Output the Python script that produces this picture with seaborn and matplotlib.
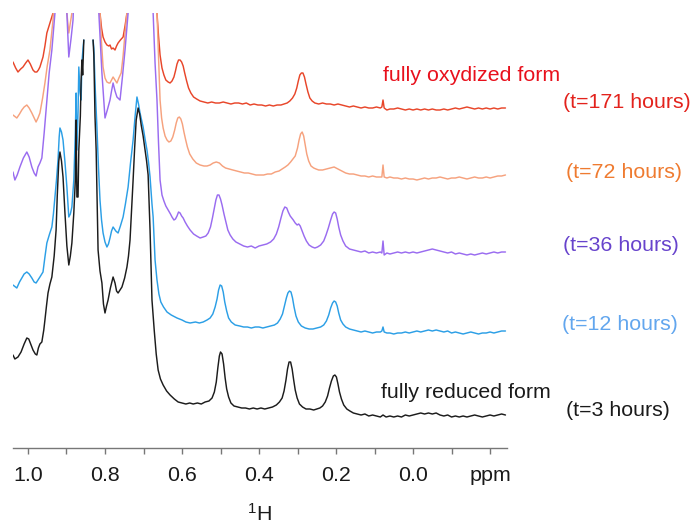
import numpy as np
import pandas as pd
import matplotlib
matplotlib.use("Agg")
import matplotlib.pyplot as plt
import seaborn as sns

# ---------------- data ----------------
# (chemical shift in ppm, intensity above the spectrum's own baseline, a.u.)
# None marks the truncated region of the two lower spectra.
spec_3h = [
    (1.039, 61), (1.034, 57), (1.026, 59), (1.018, 64), (1.010, 72), (1.003, 78), (0.998, 77),
    (0.993, 72), (0.987, 66), (0.981, 62), (0.977, 61), (0.973, 68), (0.969, 72), (0.964, 74),
    (0.959, 86), (0.956, 96), (0.952, 110), (0.948, 123), (0.943, 132), (0.938, 139), (0.932, 160),
    (0.927, 186), (0.924, 220), (0.920, 255), (0.917, 264), (0.913, 255), (0.909, 239), (0.904, 203),
    (0.899, 170), (0.894, 151), (0.890, 160), (0.886, 173), (0.881, 203), (0.877, 236), (0.875, 296),
    (0.873, 219), (0.870, 219), (0.868, 266), (0.864, 300), (0.862, 336), (0.860, 356), (0.858, 341),
    (0.855, 376), None, (0.831, 376), (0.829, 361), (0.826, 300), (0.823, 266), (0.818, 166),
    (0.813, 145), (0.808, 133), (0.804, 112), (0.800, 103), (0.796, 110), (0.792, 116), (0.786, 128),
    (0.779, 139), (0.774, 133), (0.770, 125), (0.766, 123), (0.761, 126), (0.756, 129), (0.749, 138),
    (0.743, 149), (0.739, 160), (0.735, 176), (0.731, 205), (0.727, 236), (0.723, 268), (0.719, 296),
    (0.714, 308), (0.710, 302), (0.706, 291), (0.701, 280), (0.696, 266), (0.692, 255), (0.688, 241),
    (0.683, 186), (0.678, 116), (0.672, 85), (0.667, 62), (0.662, 46), (0.656, 37), (0.649, 31),
    (0.640, 25), (0.631, 21), (0.620, 17), (0.610, 14), (0.600, 13), (0.590, 12), (0.580, 13),
    (0.571, 12), (0.560, 13), (0.550, 12), (0.540, 14), (0.530, 15), (0.522, 18), (0.516, 24),
    (0.511, 34), (0.507, 48), (0.503, 60), (0.500, 64), (0.496, 62), (0.492, 52), (0.488, 38),
    (0.484, 27), (0.479, 19), (0.473, 13), (0.465, 10), (0.455, 9), (0.445, 8), (0.435, 8),
    (0.425, 7), (0.415, 8), (0.405, 7), (0.395, 8), (0.385, 7), (0.375, 8), (0.365, 9), (0.355, 11),
    (0.347, 14), (0.340, 18), (0.335, 25), (0.330, 36), (0.326, 47), (0.322, 54), (0.318, 54),
    (0.314, 47), (0.310, 36), (0.306, 26), (0.301, 18), (0.295, 12), (0.287, 9), (0.278, 7),
    (0.268, 7), (0.258, 6), (0.250, 7), (0.242, 8), (0.235, 10), (0.228, 14), (0.222, 20),
    (0.217, 28), (0.212, 35), (0.207, 40), (0.203, 41), (0.199, 39), (0.195, 32), (0.191, 24),
    (0.186, 17), (0.180, 11), (0.172, 7), (0.164, 5), (0.155, 3), (0.145, 2), (0.135, 1), (0.125, 2),
    (0.115, 0), (0.105, 1), (0.095, 0), (0.085, -1), (0.078, 1), (0.070, -1), (0.060, 0),
    (0.050, -1), (0.040, 0), (0.030, -1), (0.020, 1), (0.010, 0), (0.000, 1), (-0.010, 2),
    (-0.020, 3), (-0.030, 2), (-0.040, 3), (-0.050, 2), (-0.060, 3), (-0.070, 1), (-0.080, 0),
    (-0.090, 1), (-0.100, -1), (-0.110, 0), (-0.120, -1), (-0.130, 0), (-0.140, -1), (-0.150, 0),
    (-0.160, 1), (-0.170, 0), (-0.180, -1), (-0.190, 0), (-0.200, 1), (-0.210, 0), (-0.220, 1),
    (-0.230, 2), (-0.240, 1),
]

spec_12h = [
    (1.039, 47), (1.029, 44), (1.022, 50), (1.016, 54), (1.010, 58), (1.003, 60), (0.997, 58),
    (0.990, 54), (0.984, 50), (0.979, 49), (0.974, 52), (0.969, 55), (0.961, 60), (0.956, 75),
    (0.951, 89), (0.944, 98), (0.938, 105), (0.934, 118), (0.930, 135), (0.926, 152), (0.922, 172),
    (0.919, 195), (0.917, 204), (0.913, 200), (0.909, 192), (0.904, 170), (0.899, 145), (0.894, 115),
    (0.890, 118), (0.886, 125), (0.881, 152), (0.877, 200), (0.875, 239), (0.873, 182), (0.870, 220),
    (0.868, 265), (0.865, 240), (0.862, 232), (0.860, 269), (0.857, 284), (0.855, 292), None,
    (0.831, 292), (0.829, 284), (0.825, 240), (0.821, 205), (0.817, 165), (0.813, 132), (0.809, 112),
    (0.805, 99), (0.800, 90), (0.795, 85), (0.791, 88), (0.787, 94), (0.783, 101), (0.779, 105),
    (0.772, 101), (0.766, 99), (0.760, 106), (0.753, 115), (0.747, 128), (0.740, 145), (0.734, 168),
    (0.727, 192), (0.722, 215), (0.717, 235), (0.713, 228), (0.709, 219), (0.705, 212), (0.701, 205),
    (0.696, 193), (0.691, 182), (0.687, 170), (0.683, 155), (0.678, 128), (0.675, 115), (0.670, 72),
    (0.665, 52), (0.660, 38), (0.655, 30), (0.648, 25), (0.639, 20), (0.628, 17), (0.613, 14),
    (0.600, 12), (0.590, 10), (0.579, 9), (0.565, 10), (0.555, 9), (0.545, 10), (0.535, 12),
    (0.527, 14), (0.520, 18), (0.514, 25), (0.509, 33), (0.505, 42), (0.501, 47), (0.497, 46),
    (0.493, 40), (0.489, 30), (0.484, 21), (0.479, 14), (0.472, 10), (0.462, 7), (0.450, 6),
    (0.440, 5), (0.430, 5), (0.420, 4), (0.410, 5), (0.400, 5), (0.390, 4), (0.380, 5), (0.370, 6),
    (0.360, 7), (0.352, 9), (0.345, 13), (0.339, 18), (0.334, 26), (0.329, 34), (0.325, 39),
    (0.321, 41), (0.317, 40), (0.313, 34), (0.309, 25), (0.304, 16), (0.298, 10), (0.290, 6),
    (0.280, 4), (0.270, 3), (0.260, 3), (0.250, 4), (0.240, 5), (0.232, 7), (0.225, 11),
    (0.219, 17), (0.214, 24), (0.209, 29), (0.205, 31), (0.201, 30), (0.197, 26), (0.193, 19),
    (0.188, 12), (0.182, 8), (0.175, 5), (0.165, 3), (0.155, 2), (0.145, 1), (0.135, 0), (0.125, 1),
    (0.115, 0), (0.105, -1), (0.095, 0), (0.085, 0), (0.081, 1), (0.078, 5), (0.075, 0),
    (0.068, -1), (0.060, -1), (0.050, -2), (0.040, -1), (0.030, -1), (0.020, 0), (0.010, -1),
    (0.000, 0), (-0.010, 1), (-0.020, 0), (-0.030, 1), (-0.040, 2), (-0.050, 1), (-0.060, 2),
    (-0.070, 1), (-0.080, 0), (-0.090, 1), (-0.100, -1), (-0.110, 0), (-0.120, -1), (-0.130, -2),
    (-0.140, -1), (-0.150, 0), (-0.160, -1), (-0.170, -2), (-0.180, -1), (-0.190, -1), (-0.200, 0),
    (-0.210, -1), (-0.220, 0), (-0.230, 1), (-0.240, 1),
]

spec_36h = [
    (1.039, 81), (1.034, 73), (1.028, 78), (1.021, 86), (1.012, 95), (1.003, 101), (0.997, 96),
    (0.990, 86), (0.984, 80), (0.979, 77), (0.974, 86), (0.969, 90), (0.964, 95), (0.958, 120),
    (0.951, 153), (0.945, 180), (0.938, 203), (0.930, 240), (0.925, 283), (0.910, 350), (0.899, 240),
    (0.894, 196), (0.888, 215), (0.883, 233), (0.878, 293), (0.850, 600), (0.822, 300), (0.816, 240),
    (0.808, 180), (0.800, 135), (0.794, 143), (0.787, 153), (0.783, 162), (0.779, 170), (0.774, 162),
    (0.769, 156), (0.761, 153), (0.755, 175), (0.748, 203), (0.740, 240), (0.732, 293), (0.710, 600),
    (0.683, 293), (0.675, 240), (0.670, 190), (0.665, 153), (0.661, 110), (0.657, 73), (0.652, 58),
    (0.647, 52), (0.642, 47), (0.636, 43), (0.630, 39), (0.626, 36), (0.621, 33), (0.617, 34),
    (0.613, 37), (0.609, 41), (0.605, 40), (0.601, 37), (0.597, 35), (0.592, 31), (0.586, 27),
    (0.579, 23), (0.570, 19), (0.562, 17), (0.553, 15), (0.545, 16), (0.538, 17), (0.532, 20),
    (0.526, 26), (0.521, 35), (0.516, 45), (0.512, 53), (0.508, 58), (0.504, 58), (0.500, 54),
    (0.496, 48), (0.491, 39), (0.486, 31), (0.481, 23), (0.475, 18), (0.468, 14), (0.460, 11),
    (0.450, 9), (0.440, 7), (0.430, 6), (0.420, 7), (0.410, 5), (0.400, 7), (0.390, 8), (0.380, 9),
    (0.370, 11), (0.362, 14), (0.355, 19), (0.349, 26), (0.343, 35), (0.338, 42), (0.333, 46),
    (0.328, 45), (0.324, 41), (0.319, 37), (0.315, 35), (0.311, 33), (0.306, 30), (0.301, 28),
    (0.297, 29), (0.293, 27), (0.288, 22), (0.283, 17), (0.277, 12), (0.270, 8), (0.262, 6),
    (0.255, 5), (0.248, 6), (0.240, 8), (0.232, 12), (0.226, 18), (0.220, 25), (0.214, 33),
    (0.209, 39), (0.205, 41), (0.201, 40), (0.197, 34), (0.193, 26), (0.188, 18), (0.182, 12),
    (0.175, 7), (0.165, 4), (0.155, 3), (0.145, 2), (0.135, 1), (0.125, 2), (0.115, 0), (0.105, 1),
    (0.095, 0), (0.085, 1), (0.081, 0), (0.078, 12), (0.075, -2), (0.068, 0), (0.060, -1),
    (0.050, 0), (0.040, 1), (0.030, 0), (0.020, 1), (0.010, 0), (0.000, 1), (-0.010, 0),
    (-0.020, 1), (-0.030, 2), (-0.040, 3), (-0.050, 4), (-0.060, 3), (-0.070, 2), (-0.080, 1),
    (-0.090, 0), (-0.100, 1), (-0.110, -1), (-0.120, 0), (-0.130, -1), (-0.140, -2), (-0.150, -1),
    (-0.160, -2), (-0.170, -1), (-0.180, 0), (-0.190, -1), (-0.200, 0), (-0.210, 1), (-0.220, 0),
    (-0.230, 1), (-0.240, 1),
]

spec_72h = [
    (1.039, 63), (1.029, 60), (1.022, 64), (1.016, 68), (1.010, 71), (1.003, 73), (0.997, 70),
    (0.990, 65), (0.984, 60), (0.979, 56), (0.974, 60), (0.969, 65), (0.962, 80), (0.956, 95),
    (0.950, 112), (0.943, 128), (0.935, 158), (0.930, 198), (0.910, 400), (0.904, 198), (0.899, 165),
    (0.894, 145), (0.886, 165), (0.881, 198), (0.850, 400), (0.818, 198), (0.813, 165), (0.809, 135),
    (0.805, 111), (0.800, 100), (0.795, 96), (0.790, 95), (0.787, 95), (0.783, 98), (0.779, 101),
    (0.774, 98), (0.769, 95), (0.764, 100), (0.758, 105), (0.753, 122), (0.748, 145), (0.743, 165),
    (0.738, 198), (0.710, 400), (0.670, 198), (0.665, 165), (0.661, 120), (0.657, 78), (0.653, 60),
    (0.649, 50), (0.644, 42), (0.639, 38), (0.634, 36), (0.629, 37), (0.624, 41), (0.619, 48),
    (0.615, 55), (0.611, 60), (0.607, 61), (0.603, 59), (0.599, 54), (0.595, 46), (0.591, 39),
    (0.586, 31), (0.580, 24), (0.572, 19), (0.563, 15), (0.553, 13), (0.543, 12), (0.535, 12),
    (0.527, 13), (0.519, 15), (0.511, 16), (0.503, 15), (0.495, 12), (0.487, 10), (0.478, 9),
    (0.468, 8), (0.458, 7), (0.448, 6), (0.438, 5), (0.428, 5), (0.418, 4), (0.408, 3), (0.398, 3),
    (0.388, 3), (0.378, 4), (0.368, 4), (0.358, 6), (0.348, 7), (0.340, 9), (0.332, 11),
    (0.325, 13), (0.318, 16), (0.312, 19), (0.306, 22), (0.300, 30), (0.296, 38), (0.292, 44),
    (0.288, 46), (0.284, 42), (0.280, 33), (0.276, 24), (0.271, 17), (0.265, 12), (0.258, 10),
    (0.252, 9), (0.245, 8), (0.235, 8), (0.225, 9), (0.215, 10), (0.205, 11), (0.195, 9),
    (0.185, 7), (0.175, 5), (0.165, 4), (0.155, 4), (0.145, 3), (0.135, 2), (0.125, 2), (0.115, 1),
    (0.105, 2), (0.095, 1), (0.085, 1), (0.081, 1), (0.078, 13), (0.075, 1), (0.068, 0), (0.060, 1),
    (0.050, 0), (0.040, 0), (0.030, -1), (0.020, 0), (0.010, -1), (0.000, -1), (-0.010, -2),
    (-0.020, -1), (-0.030, 0), (-0.040, -1), (-0.050, 0), (-0.060, 0), (-0.070, 1), (-0.080, 0),
    (-0.090, -1), (-0.100, 0), (-0.110, 0), (-0.120, 1), (-0.130, 0), (-0.140, -1), (-0.150, 0),
    (-0.160, 1), (-0.170, 0), (-0.180, 0), (-0.190, 1), (-0.200, 0), (-0.210, 1), (-0.220, 2),
    (-0.230, 2), (-0.240, 3),
]

spec_171h = [
    (1.039, 46), (1.032, 40), (1.026, 36), (1.019, 39), (1.013, 41), (1.006, 45), (1.000, 48),
    (0.994, 44), (0.987, 38), (0.982, 36), (0.977, 36), (0.973, 38), (0.969, 41), (0.961, 51),
    (0.956, 62), (0.951, 75), (0.943, 85), (0.935, 95), (0.930, 128), (0.870, 300), (0.818, 128),
    (0.813, 95), (0.809, 80), (0.805, 71), (0.800, 66), (0.795, 63), (0.790, 62), (0.787, 63),
    (0.783, 59), (0.779, 60), (0.774, 58), (0.770, 62), (0.766, 65), (0.760, 68), (0.753, 71),
    (0.748, 82), (0.743, 95), (0.738, 128), (0.710, 300), (0.670, 128), (0.665, 95), (0.661, 72),
    (0.657, 53), (0.652, 40), (0.647, 33), (0.642, 28), (0.636, 26), (0.631, 25), (0.626, 27),
    (0.621, 31), (0.617, 37), (0.613, 44), (0.609, 48), (0.605, 48), (0.601, 46), (0.597, 42),
    (0.593, 35), (0.588, 27), (0.583, 20), (0.577, 15), (0.570, 11), (0.562, 9), (0.553, 7),
    (0.543, 6), (0.533, 5), (0.523, 6), (0.513, 5), (0.503, 5), (0.493, 6), (0.483, 5), (0.473, 4),
    (0.463, 5), (0.453, 5), (0.443, 4), (0.433, 5), (0.423, 3), (0.413, 4), (0.403, 3), (0.393, 3),
    (0.383, 2), (0.373, 3), (0.363, 2), (0.353, 3), (0.343, 3), (0.335, 4), (0.327, 5), (0.320, 7),
    (0.313, 10), (0.307, 14), (0.302, 20), (0.298, 27), (0.294, 33), (0.290, 35), (0.286, 35),
    (0.282, 31), (0.278, 24), (0.273, 16), (0.268, 10), (0.262, 7), (0.255, 5), (0.245, 4),
    (0.235, 5), (0.225, 4), (0.215, 4), (0.205, 3), (0.195, 4), (0.185, 3), (0.175, 2), (0.165, 1),
    (0.155, 2), (0.145, 1), (0.135, 0), (0.125, 1), (0.115, 0), (0.105, 0), (0.095, 1), (0.085, 0),
    (0.081, 1), (0.078, 8), (0.075, 0), (0.068, -2), (0.060, -1), (0.050, -1), (0.040, 0),
    (0.030, -1), (0.020, -2), (0.010, -1), (0.000, -2), (-0.010, -1), (-0.020, -2), (-0.030, -1),
    (-0.040, -2), (-0.050, -1), (-0.060, -2), (-0.070, -2), (-0.080, -1), (-0.090, -2),
    (-0.100, -1), (-0.110, 0), (-0.120, -1), (-0.130, 0), (-0.140, 1), (-0.150, 0), (-0.160, -1),
    (-0.170, 0), (-0.180, -1), (-0.190, 0), (-0.200, -1), (-0.210, 0), (-0.220, -1), (-0.230, 0),
    (-0.240, 0),
]

spectra = ["t=171 hours", "t=72 hours", "t=36 hours", "t=12 hours", "t=3 hours"]
spectrum_data = [spec_171h, spec_72h, spec_36h, spec_12h, spec_3h]
offsets = [339.5, 269.5, 194.5, 115.5, 31.5]          # vertical stacking of the spectra
line_colors = ["#e8462a", "#f6a27e", "#9a6cf0", "#2c9fe6", "#1c1c1c"]

label_texts = ["(t=171 hours)", "(t=72 hours)", "(t=36 hours)", "(t=12 hours)", "(t=3 hours)"]
label_colors = ["#e3221c", "#ef7b30", "#6743cc", "#62a6ee", "#1a1a1a"]
form_texts = ["fully oxydized form", "fully reduced form"]
form_colors = ["#e8101c", "#1a1a1a"]

xticks_major = [1.0, 0.8, 0.6, 0.4, 0.2, 0.0, -0.2]
xtick_labels = ["1.0", "0.8", "0.6", "0.4", "0.2", "0.0", "ppm"]
xticks_minor = [0.9, 0.7, 0.5, 0.3, 0.1, -0.1]

# ---------------- build long table ----------------
rows = []
seg = 0
for name, pts, off in zip(spectra, spectrum_data, offsets):
    for p in pts:
        if p is None:
            seg += 1
            continue
        rows.append({"ppm": p[0], "y": p[1] + off, "spectrum": name, "seg": seg})
    seg += 1
df = pd.DataFrame(rows)

# ---------------- plot ----------------
sns.set_theme(style="white")
plt.rcParams["font.family"] = ["Liberation Sans", "DejaVu Sans"]
plt.rcParams["mathtext.default"] = "regular"

fig = plt.figure(figsize=(6.91, 5.23), dpi=100)
W, H = 691, 523
ax = fig.add_axes([12.7 / W, (H - 447.5) / H, (507 - 12.7) / W, (447.5 - 13) / H])

sns.lineplot(data=df, x="ppm", y="y", hue="spectrum", hue_order=spectra,
             palette=dict(zip(spectra, line_colors)), units="seg", estimator=None,
             sort=False, legend=False, linewidth=1.05, ax=ax)

ax.set_xlim(1.0397, -0.244)
ax.set_ylim(0, 434.5)
for s in ["left", "right", "top"]:
    ax.spines[s].set_visible(False)
ax.spines["bottom"].set_color("#777777")
ax.spines["bottom"].set_linewidth(1.0)
ax.set_yticks([])
ax.set_ylabel("")
ax.set_xticks(xticks_major)
ax.set_xticklabels(xtick_labels)
ax.set_xticks(xticks_minor, minor=True)
ax.tick_params(axis="x", which="both", direction="out", length=4, width=1.0,
               color="#777777", bottom=True, labelsize=15.4, labelcolor="#1a1a1a", pad=9)
ax.set_xlabel(r"$^{1}$H", fontsize=15.4, color="#1a1a1a", labelpad=13)

# annotations
fig.text(383 / W, 1 - 75 / H, form_texts[0], color=form_colors[0], fontsize=15.4, va="center", ha="left")
fig.text(381 / W, 1 - 393 / H, form_texts[1], color=form_colors[1], fontsize=15.4, va="center", ha="left")
label_pos = [(563, 103), (566, 172), (563, 245), (562, 325), (566, 410)]
for (px, py), t, c in zip(label_pos, label_texts, label_colors):
    fig.text(px / W, 1 - py / H, t, color=c, fontsize=15.4, va="center", ha="left")

fig.savefig("out.png", dpi=100)
